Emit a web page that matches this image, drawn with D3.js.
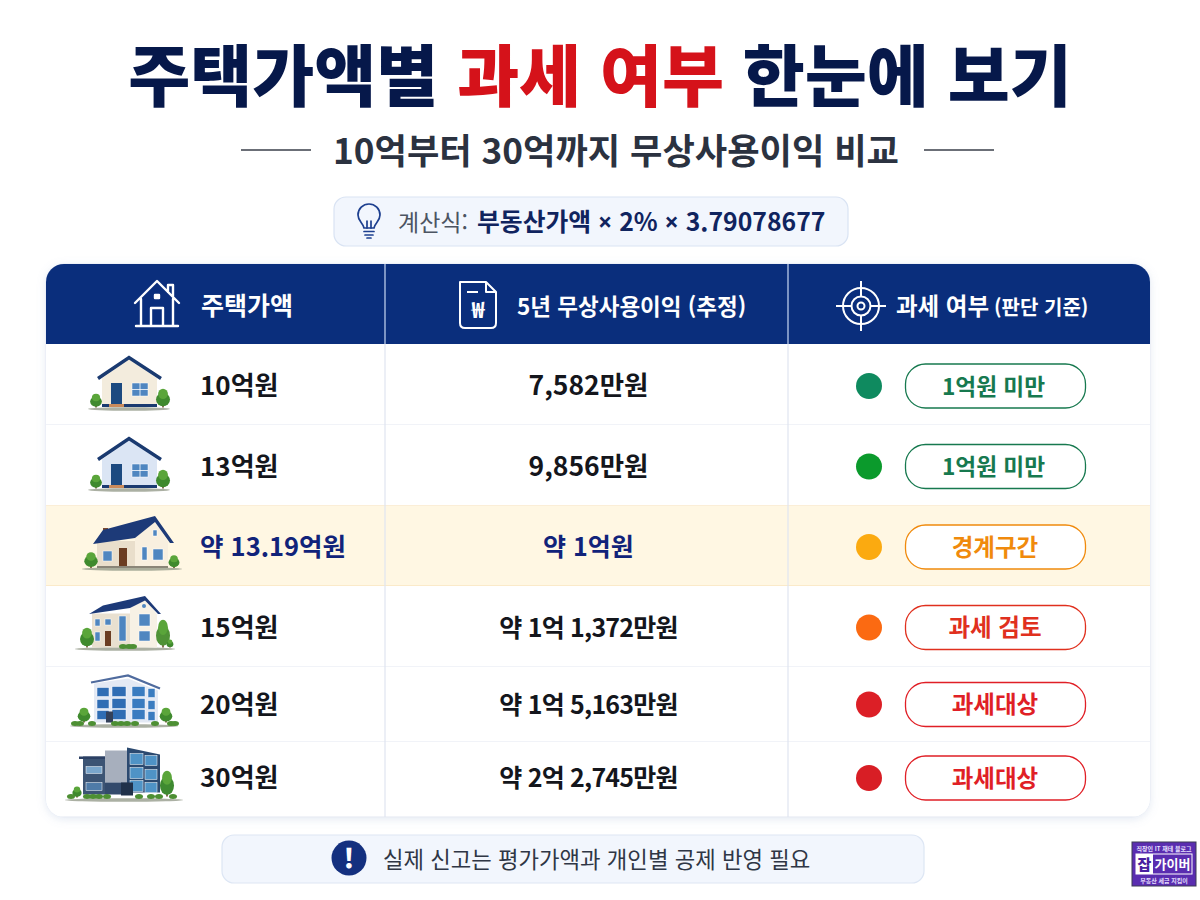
<!DOCTYPE html>
<html lang="ko">
<head>
<meta charset="utf-8">
<script src="https://cdn.jsdelivr.net/npm/d3@7"></script>
<style>
  html, body { margin: 0; background: #fff; }
  svg { display: block; }
  text { font-family: "Noto Sans CJK KR", "Noto Sans", sans-serif; }
</style>
</head>
<body>
<svg id="chart" width="1200" height="900"></svg>
<script>
const titleParts = ["주택가액별 ", "과세 여부", " 한눈에 보기"];
const subtitle = "10억부터 30억까지 무상사용이익 비교";
const formulaLabel = "계산식:";
const formulaParts = ["부동산가액 ", "×", " 2% ", "×", " 3.79078677"];
const headers = ["주택가액", "5년 무상사용이익 (추정)", "과세 여부"];
const headerSmall = "(판단 기준)";
const prices = ["10억원", "13억원", "약 13.19억원", "15억원", "20억원", "30억원"];
const benefits = ["7,582만원", "9,856만원", "약 1억원", "약 1억 1,372만원", "약 1억 5,163만원", "약 2억 2,745만원"];
const statuses = ["1억원 미만", "1억원 미만", "경계구간", "과세 검토", "과세대상", "과세대상"];
const dotColors = ["#0f8a5f", "#0b9a2c", "#fbaa10", "#fb6a12", "#dc1f26", "#d81e25"];
const pillColors = ["#17794f", "#17794f", "#f08a0c", "#e0301e", "#e01f26", "#e01f26"];
const houseKinds = ["small", "small2", "gable", "twoStory", "office", "modern"];
const footnote = "실제 신고는 평가가액과 개인별 공제 반영 필요";

const NAVY = "#0a2e7c";
const rowH = [81, 81, 80, 81, 75, 75];
const rowNudge = [1.5, 1, 1, 1, 0, -1.5];
const houseX = [129, 129, 132, 125, 125, 125];
const card = { x: 46, y: 264, w: 1104, h: 553, head: 80 };
const colX = [385, 788];

const svg = d3.select("#chart");
const defs = svg.append("defs");
const blur = defs.append("filter").attr("id", "soft").attr("x", "-5%").attr("y", "-5%").attr("width", "110%").attr("height", "115%");
blur.append("feDropShadow").attr("dx", 0).attr("dy", 2).attr("stdDeviation", 4).attr("flood-color", "#8aa0cc").attr("flood-opacity", 0.22);

function label(parent, x, y, str, size, weight, fill, anchor) {
  return parent.append("text").attr("x", x).attr("y", y).attr("text-anchor", anchor || "start")
    .attr("font-size", size).attr("font-weight", weight).attr("fill", fill).text(str);
}

// title
const title = svg.append("text").attr("x", 600).attr("y", 101).attr("text-anchor", "middle")
  .attr("font-size", 67.4).attr("font-weight", 900).style("white-space", "pre");
titleParts.forEach((t, i) => title.append("tspan").attr("fill", i === 1 ? "#d5121a" : "#06184a").text(t));

label(svg, 616, 164, subtitle, 35.2, 700, "#2b3240", "middle");
svg.selectAll("line.rule").data([[241, 311], [924, 994]]).join("line").attr("class", "rule")
  .attr("x1", d => d[0]).attr("x2", d => d[1]).attr("y1", 150).attr("y2", 150).attr("stroke", "#3a3f4a").attr("stroke-width", 1.4);

// formula box
svg.append("rect").attr("x", 334).attr("y", 197).attr("width", 514).attr("height", 49).attr("rx", 12)
  .attr("fill", "#f2f6fd").attr("stroke", "#d9e3f3").attr("stroke-width", 1.2);
const bulb = svg.append("g").attr("transform", "translate(369,221)").attr("fill", "none").attr("stroke", "#1d3f8f").attr("stroke-width", 1.7).attr("stroke-linecap", "round");
bulb.append("path").attr("d", "M-5,7 C-6,2 -11,0 -11,-6 A11,11 0 1 1 11,-6 C11,0 6,2 5,7 Z");
bulb.append("path").attr("d", "M-2,7 V0 M2,7 V0 M-5,10.5 H5 M-4,14 H4 M-2,17 H2");
label(svg, 398, 231, formulaLabel, 23, 400, "#4c5462");
const formula = svg.append("text").attr("x", 477).attr("y", 231).attr("font-size", 24.8).attr("font-weight", 700).attr("fill", "#10245f").style("white-space", "pre");
formulaParts.forEach(t => formula.append("tspan").style("font-family", t === "×" ? "'Noto Sans'" : null).text(t));

// card
svg.append("rect").attr("x", card.x).attr("y", card.y).attr("width", card.w).attr("height", card.h).attr("rx", 18)
  .attr("fill", "#fff").attr("stroke", "#e3e9f4").attr("filter", "url(#soft)");
defs.append("clipPath").attr("id", "cardClip").append("rect").attr("x", card.x).attr("y", card.y).attr("width", card.w).attr("height", card.h).attr("rx", 18);
const table = svg.append("g").attr("clip-path", "url(#cardClip)");
table.append("rect").attr("x", card.x).attr("y", card.y).attr("width", card.w).attr("height", card.head).attr("fill", NAVY);

// rows from cumulative heights
const tops = d3.cumsum([card.y + card.head].concat(rowH));
const rows = table.selectAll("g.row").data(prices).join("g").attr("class", "row")
  .attr("transform", (d, i) => `translate(0,${tops[i]})`);
rows.append("rect").attr("x", card.x).attr("width", card.w).attr("height", (d, i) => rowH[i])
  .attr("fill", (d, i) => i === 2 ? "#fff7e3" : "#fff");
rows.append("line").attr("x1", card.x).attr("x2", card.x + card.w).attr("y1", (d, i) => rowH[i]).attr("y2", (d, i) => rowH[i])
  .attr("stroke", (d, i) => (i === 1 || i === 2) ? "#f8deb0" : "#e4e8f1").attr("stroke-width", 1.2);
table.selectAll("line.col").data(colX).join("line").attr("class", "col")
  .attr("x1", d => d).attr("x2", d => d).attr("y1", card.y).attr("y2", card.y + card.h)
  .attr("stroke", "#dfe5f0").attr("stroke-width", 1.2);
table.selectAll("line.colHead").data(colX).join("line").attr("class", "colHead")
  .attr("x1", d => d).attr("x2", d => d).attr("y1", card.y).attr("y2", card.y + card.head)
  .attr("stroke", "#6f8cc4").attr("stroke-width", 1);

// header text
label(table, 201, 315, headers[0], 25, 700, "#fff");
label(table, 517, 315, headers[1], 22.5, 700, "#fff");
const h3 = label(table, 896, 315, headers[2], 23.5, 700, "#fff");
h3.append("tspan").attr("dx", 5).attr("font-size", 20).text(headerSmall);

// header icons
const ih = table.append("g").attr("transform", "translate(157,305)").attr("fill", "none").attr("stroke", "#fff").attr("stroke-width", 2.4).attr("stroke-linejoin", "round").attr("stroke-linecap", "round");
ih.append("path").attr("d", "M-22,-2 L0,-24 L22,-2 M-16,-6 V20 M16,-6 V20 M-21,21 H21 M-6,20 V3 H6 V20 M11,-13 V-20 H16 V-9");
ih.append("rect").attr("x", -2).attr("y", -10).attr("width", 4).attr("height", 3).attr("fill", "#fff");
const id = table.append("g").attr("transform", "translate(478,305)").attr("fill", "none").attr("stroke", "#fff").attr("stroke-width", 2).attr("stroke-linejoin", "round");
id.append("path").attr("d", "M-18,-23 H8 L18,-13 V18 Q18,23 13,23 H-13 Q-18,23 -18,18 Z M8,-23 V-13 H18 M-11,-13 H0");
id.append("text").attr("x", 0).attr("y", 13).attr("text-anchor", "middle").attr("font-size", 22).attr("font-weight", 700).attr("fill", "#fff").attr("stroke", "none").text("₩");
const it = table.append("g").attr("transform", "translate(861,306)").attr("fill", "none").attr("stroke", "#fff").attr("stroke-width", 2);
it.append("circle").attr("r", 18);
it.append("circle").attr("r", 9.5);
it.append("circle").attr("r", 3.5);
it.append("path").attr("d", "M0,-25 V-9 M0,9 V25 M-25,0 H-9 M9,0 H25");

// row contents
rows.each(function (d, i) {
  const r = d3.select(this), mid = rowH[i] / 2 + rowNudge[i];
  const blue = i === 2;
  label(r, 200, mid + 9, d, i === 2 ? 25.5 : 26, 700, blue ? "#11237a" : "#14161c");
  label(r, 588.5, mid + 9, benefits[i], i < 2 ? 26.5 : 25, 700, blue ? "#11237a" : "#14161c", "middle")
    .style("letter-spacing", i > 2 ? "-0.8px" : null);
  r.append("circle").attr("cx", 869).attr("cy", mid).attr("r", 13).attr("fill", dotColors[i]);
  r.append("rect").attr("x", 905.5).attr("y", mid - 22).attr("width", 180).attr("height", 44).attr("rx", 20)
    .attr("fill", "#fff").attr("stroke", pillColors[i]).attr("stroke-width", 1.3);
  label(r, i < 2 ? 993.5 : 995, mid + 8.5, statuses[i], i < 2 ? 22.7 : 23.5, 700, pillColors[i], "middle");
  drawHouse(r.append("g").attr("transform", `translate(${houseX[i]},${rowH[i] / 2 + 1})`), houseKinds[i]);
});

// tree crown built of a few overlapping blobs
function tree(g, x, base, h, col) {
  const c = col || "#3f8a2e", w = Math.min(h * 0.42, 7);
  g.append("rect").attr("x", x - 0.8).attr("y", base - h * 0.4).attr("width", 1.6).attr("height", h * 0.4).attr("fill", "#6b4a2a");
  g.append("ellipse").attr("cx", x).attr("cy", base - h * 0.42).attr("rx", w).attr("ry", h * 0.36).attr("fill", c);
  g.append("ellipse").attr("cx", x).attr("cy", base - h * 0.72).attr("rx", w * 0.7).attr("ry", h * 0.27).attr("fill", "#5aa53a");
}

function bushes(g, xs, y) {
  xs.forEach(x => g.append("ellipse").attr("cx", x).attr("cy", y).attr("rx", 4).attr("ry", 2.5).attr("fill", "#4d8f33"));
}

function drawHouse(g, kind) {
  const ground = (x1, x2, y) => g.append("ellipse").attr("cx", (x1 + x2) / 2).attr("cy", y).attr("rx", (x2 - x1) / 2).attr("ry", 1.8).attr("fill", "#8f9684").attr("opacity", 0.75);
  const shape = (d, c) => g.append("path").attr("d", d).attr("fill", c);
  const box = (x, y, w, h, c) => g.append("rect").attr("x", x).attr("y", y).attr("width", w).attr("height", h).attr("fill", c);
  const win = (x, y, w, h, c) => g.append("rect").attr("x", x).attr("y", y).attr("width", w).attr("height", h).attr("fill", c || "#4f86c0").attr("stroke", "#fff").attr("stroke-width", 0.5);
  if (kind === "small" || kind === "small2") {
    ground(-41, 41, 23.5);
    shape("M-27,-7 L0,-27 L28,-7 V21 H-27 Z", kind === "small" ? "#f3ecdd" : "#dbe5f4");
    g.append("path").attr("d", "M-31,-7 L0,-28 L32,-7").attr("fill", "none").attr("stroke", "#1a3a70").attr("stroke-width", 3.4);
    box(-27, 18.5, 55, 3, "#1a3a70");
    box(-18, -2.5, 11, 21, "#1c4a80");
    box(-20, 18.5, 15, 3, "#c98b5c");
    win(3, -2.5, 16, 13);
    g.append("path").attr("d", "M11,-2.5 V10.5 M3,4 H19").attr("stroke", "#fff").attr("stroke-width", 0.8);
    tree(g, -33, 22, 14); tree(g, 34, 22, 19);
  } else if (kind === "gable") {
    ground(-50, 50, 22);
    box(-35, -6, 38, 27, "#e9decb");
    shape("M3,-9 L23,-27 L36,-5 V21 H3 Z", "#f8efdf");
    box(-29, -19, 5, 6, "#7a4a32");
    shape("M-39,-3 L-29,-17 L23,-31 L42,-4 L38,-4 L23,-25 L3,-9 Z", "#1d3a78");
    win(-29, 4, 9, 10); win(10, 0, 5, 13); win(21, 2, 10, 11); win(21, -17, 4, 6);
    box(-13, 1, 8, 19, "#6b3d22");
    box(-35, 19, 71, 2, "#8a8578");
    tree(g, -41, 21, 16); tree(g, 42, 21, 13);
  } else if (kind === "twoStory") {
    ground(-50, 50, 21.5);
    box(-33, -14, 40, 34, "#e9e0d0");
    shape("M5,-19 L20,-30 L32,-13 V20 H5 Z", "#f7f1e5");
    shape("M-36,-13.5 L-22,-22 L20,-31.5 L36,-13.5 L33,-13.5 L20,-27 L5,-19.5 Z", "#1d3a78");
    win(-30, -8.5, 5, 7); win(-20, -8.5, 6, 6); win(-6, -11.5, 7, 25); win(14, -13.5, 11, 12); win(14, 3.5, 11, 10); win(-30, 4.5, 5, 9);
    g.append("circle").attr("cx", 19).attr("cy", -21.5).attr("r", 2).attr("fill", "#4f86c0");
    box(-20, 3.5, 6, 15, "#6b3d22");
    tree(g, -38, 20, 20); tree(g, 38, 20, 28, "#4f9236"); tree(g, 45, 20, 8);
    bushes(g, [-2, 4, 8], 19);
  } else if (kind === "office") {
    ground(-55, 53, 20.5);
    shape("M-31,-22 L3,-27 L33,-15 V17 H-31 Z", "#e3e9f4");
    g.append("path").attr("d", "M-34,-23 L3,-30 L35,-17").attr("fill", "none").attr("stroke", "#4f6b9e").attr("stroke-width", 2.2);
    [-18, -6, 5].forEach(y => {
      win(-28, y, 12, 9, "#2f6db4");
      win(-13, y - 1, 14, 10, "#2f6db4");
      win(7, y - 1, 13, 10, "#3a7cc0");
      win(23, y + 1, 7, 9, "#3a7cc0");
    });
    box(-19, 6, 7, 11, "#33415a");
    tree(g, -41, 17, 15); tree(g, 41, 17, 15);
    bushes(g, [-50, -45, -33, -10, -4, 2, 10, 30, 46, 50], 18);
  } else {
    ground(-60, 58, 19.5);
    box(-42, -24, 22, 38, "#3c5474");
    box(-46, -24, 30, 2.5, "#2c4064");
    box(-20, -30, 22, 32, "#a7afbd");
    box(-20, 2, 22, 12, "#334a6c");
    shape("M2,-33 L35,-26 V12 H2 Z", "#2c4a70");
    [-27, -13, 0].forEach(y => { win(5, y, 13, 11, "#4f93c6"); win(20, y + 2, 12, 10, "#4f93c6"); });
    win(-39, -14, 16, 7, "#7aa6cc"); win(-39, 2, 16, 8, "#4f7ba8");
    box(-4, 2, 12, 13, "#20314a");
    tree(g, -48, 17, 11); tree(g, 42, 16, 26, "#3f8a31");
    bushes(g, [-54, -38, -32, -26, -18, 14, 26, 34, 48], 16);
  }
}

// footnote
svg.append("rect").attr("x", 222).attr("y", 835).attr("width", 702).attr("height", 48).attr("rx", 12)
  .attr("fill", "#f2f6fd").attr("stroke", "#dde6f4").attr("stroke-width", 1.2);
svg.append("circle").attr("cx", 349).attr("cy", 858).attr("r", 17.5).attr("fill", "#14307f");
label(svg, 349, 868, "!", 27, 900, "#fff", "middle");
label(svg, 383, 868, footnote, 22.3, 400, "#2f3645");

// corner badge
const badge = svg.append("g").attr("transform", "translate(1132,842)");
badge.append("rect").attr("width", 64).attr("height", 44).attr("fill", "#5a2db0").attr("stroke", "#3c3a55").attr("stroke-width", 1);
label(badge, 32, 9, "직장인 IT 재테 블로그", 6, 700, "#e8e0ff", "middle");
badge.append("rect").attr("x", 4).attr("y", 12).attr("width", 56).attr("height", 20).attr("fill", "none").attr("stroke", "#fff");
badge.append("rect").attr("x", 4).attr("y", 12).attr("width", 17).attr("height", 20).attr("fill", "#fff");
label(badge, 12.5, 28, "잡", 15, 900, "#4a1fa0", "middle");
label(badge, 40.5, 27, "가이버", 13, 700, "#fff", "middle");
label(badge, 32, 41, "부동산 세금 지킴이", 6, 700, "#e8e0ff", "middle");
</script>
</body>
</html>
